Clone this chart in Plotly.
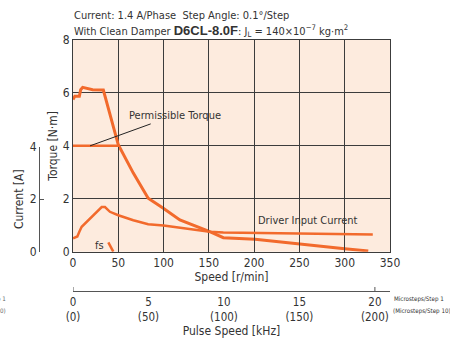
import plotly.graph_objects as go

# ---------------- data ----------------
torque_speed = [0, 2, 7, 8.5, 10.7, 21.7, 33.5, 50, 66.6, 83, 99.7, 118, 151, 166, 201, 250, 300, 326]
torque_vals = [5.75, 5.87, 5.87, 6.12, 6.21, 6.12, 6.11, 4.04, 2.97, 2.02, 1.64, 1.2, 0.76, 0.53, 0.47, 0.28, 0.11, 0.03]

current_speed = [0, 4.8, 7, 9.6, 31.7, 35.3, 40.8, 50, 66.6, 83, 100, 133, 151, 166, 250, 331]
current_vals = [0.51, 0.58, 0.76, 0.95, 1.7, 1.7, 1.52, 1.39, 1.2, 1.05, 1.0, 0.86, 0.76, 0.73, 0.70, 0.66]

permissible_speed = [0, 50]
permissible_torque = [4, 4]

fs_speed = [39, 44.5]
fs_torque = [0.35, 0]

speed_ticks = [0, 50, 100, 150, 200, 250, 300, 350]
torque_ticks = [0, 2, 4, 6, 8]
current_ticks = [0, 2, 4]
pulse_ticks = [0, 5, 10, 15, 20]
pulse_ticks_micro10 = [0, 50, 100, 150, 200]

FONT = "DejaVu Sans Condensed, Liberation Sans Narrow, Roboto, sans-serif"
ORANGE = "#f26a2c"
GRID = "#3c3c3c"
TXT = "#333333"

fig = go.Figure()

fig.add_trace(go.Scatter(x=torque_speed, y=torque_vals, mode="lines",
                         line=dict(color=ORANGE, width=3), showlegend=False, hoverinfo="skip"))
fig.add_trace(go.Scatter(x=permissible_speed, y=permissible_torque, mode="lines",
                         line=dict(color=ORANGE, width=2.5), showlegend=False, hoverinfo="skip"))
fig.add_trace(go.Scatter(x=fs_speed, y=fs_torque, mode="lines",
                         line=dict(color=ORANGE, width=2.5), showlegend=False, hoverinfo="skip"))
fig.add_trace(go.Scatter(x=current_speed, y=current_vals, mode="lines", yaxis="y2",
                         line=dict(color=ORANGE, width=2.5), showlegend=False, hoverinfo="skip"))
# carrier for the pulse-speed axis
fig.add_trace(go.Scatter(x=[0, 21], y=[None, None], xaxis="x2", mode="lines",
                         showlegend=False, hoverinfo="skip"))

XD = [53 / 370, 1]
YD0 = 72.3 / 284
TF = dict(size=12)

fig.update_layout(
    width=450, height=344,
    margin=dict(l=20, r=60, t=40, b=20),
    paper_bgcolor="white",
    plot_bgcolor="rgba(0,0,0,0)",
    font=dict(family=FONT, size=12, color=TXT),
    xaxis=dict(domain=XD, range=[0, 350], tickvals=speed_ticks, ticks="",
               showgrid=True, gridcolor=GRID, gridwidth=1, zeroline=False,
               showline=True, linecolor=GRID, linewidth=1, mirror=True,
               anchor="y", tickfont=TF, automargin=False,
               title=dict(text="Speed [r/min]", standoff=2, font=TF)),
    yaxis=dict(domain=[YD0, 1], range=[0, 8], tickvals=torque_ticks, ticks="",
               showgrid=True, gridcolor=GRID, gridwidth=1, zeroline=False,
               showline=True, linecolor=GRID, linewidth=1, mirror=True,
               anchor="x", tickfont=TF, automargin=False,
               title=dict(text="Torque [N·m]", standoff=2, font=TF)),
    yaxis2=dict(domain=[YD0, YD0 + 105 / 284], range=[0, 4], tickvals=current_ticks,
                anchor="free", position=19 / 370, side="left",
                ticks="inside", ticklen=4, tickcolor="#555", showgrid=False, zeroline=False,
                showline=True, linecolor="#555", linewidth=1, tickfont=TF, automargin=False,
                title=dict(text="Current [A]", standoff=2, font=TF)),
    xaxis2=dict(domain=XD, range=[0, 21], overlaying="x", anchor="free",
                position=33 / 284, side="bottom",
                tickvals=pulse_ticks,
                ticktext=[f"{a}<br>({b})" for a, b in zip(pulse_ticks, pulse_ticks_micro10)],
                ticks="", showgrid=False, zeroline=False, automargin=False,
                showline=True, linecolor="#555", linewidth=1, tickfont=dict(size=11.5),
                title=dict(text="Pulse Speed [kHz]", standoff=0, font=TF)),
)

# plot background below gridlines
fig.add_shape(type="rect", xref="x domain", yref="y domain", x0=0, x1=1, y0=0, y1=1,
              fillcolor="#fdebde", line=dict(width=0), layer="below")
# end ticks on the pulse axis
for v in [pulse_ticks[0], pulse_ticks[-1]]:
    fig.add_shape(type="line", xref="x2", yref="paper", x0=v, x1=v,
                  y0=33 / 284, y1=37 / 284, line=dict(color="#555", width=1))
# leader line for Permissible Torque
fig.add_shape(type="line", xref="x", yref="y", x0=18.8, y0=4.0, x1=85.8, y1=4.83,
              line=dict(color="#222", width=1))

ann = [
    dict(x=112.6, y=5.14, xref="x", yref="y", text="Permissible Torque"),
    dict(x=259, y=1.17, xref="x", yref="y", text="Driver Input Current"),
    dict(x=29.8, y=0.25, xref="x", yref="y", text="fs"),
    dict(x=52 / 370, y=(324 - 15) / 284, xref="paper", yref="paper", xanchor="left",
         text="Current: 1.4 A/Phase  Step Angle: 0.1°/Step"),
    dict(x=52 / 370, y=(324 - 31) / 284, xref="paper", yref="paper", xanchor="left",
         text="With Clean Damper <b><span style='font-family:Liberation Sans, Arial, sans-serif;font-size:13px'>D6CL-8.0F</span></b>: J<sub>L</sub> = 140×10<sup>−7</sup> kg·m<sup>2</sup>"),
    dict(x=372 / 370, y=(324 - 299) / 284, xref="paper", yref="paper", xanchor="left",
         text="Microsteps/Step 1", font=dict(size=6.2)),
    dict(x=371 / 370, y=(324 - 311) / 284, xref="paper", yref="paper", xanchor="left",
         text="(Microsteps/Step 10)", font=dict(size=6.2)),
    dict(x=-12 / 370, y=(324 - 299) / 284, xref="paper", yref="paper", xanchor="right",
         text="Microsteps/Step 1", font=dict(size=6.2, color="#666")),
    dict(x=-12 / 370, y=(324 - 311) / 284, xref="paper", yref="paper", xanchor="right",
         text="(Microsteps/Step 10)", font=dict(size=6.2, color="#666")),
]
for a in ann:
    a.setdefault("showarrow", False)
    a.setdefault("font", dict(size=11))
    a.setdefault("yanchor", "middle")
    fig.add_annotation(**a)

fig.write_html("out.html", config={"displayModeBar": False},
               post_script="document.body.style.margin='0';document.body.style.padding='0';")
